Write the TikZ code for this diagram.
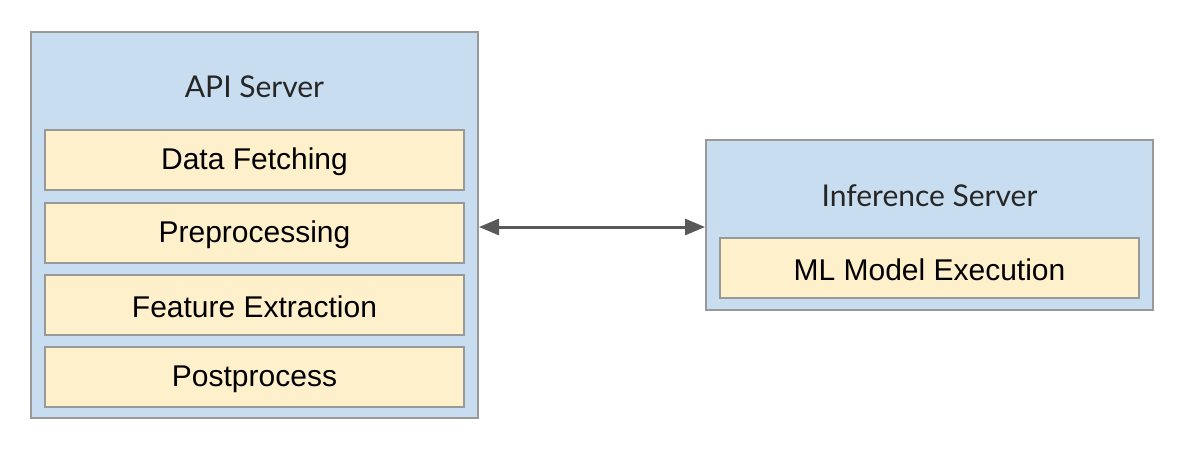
\documentclass[tikz,border=0pt]{standalone}
\usepackage{fontspec}
\setmainfont{Liberation Sans}
\newfontfamily\titlefont{Lato}
\usetikzlibrary{arrows.meta}
\definecolor{outerfill}{HTML}{C9DDF0}
\definecolor{innerfill}{HTML}{FFF0CC}
\definecolor{edgegray}{HTML}{999999}
\definecolor{arrowgray}{HTML}{595959}
\begin{document}
\begin{tikzpicture}[x=1pt,y=-1pt,
  outerbox/.style={draw=edgegray,fill=outerfill,line width=1.5pt},
  innerbox/.style={draw=edgegray,fill=innerfill,line width=1.5pt},
  innertext/.style={font=\fontsize{30}{36}\selectfont},
  titletext/.style={font=\titlefont\fontsize{30}{36}\selectfont,text=black!85}]
\useasboundingbox (0,0) rectangle (1199,455);
\draw[outerbox] (31,32) rectangle (478,418);
\node[titletext] (apititle) at (254.5,87) {API Server};
\draw[innerbox] (45,130) rectangle (464,190);
\node[innertext] (df) at (254.5,162) {Data Fetching};
\draw[innerbox] (45,203) rectangle (464,263);
\node[innertext] (pp) at (254.5,235) {Preprocessing};
\draw[innerbox] (45,275) rectangle (464,335);
\node[innertext] (fe) at (254.5,307) {Feature Extraction};
\draw[innerbox] (45,347) rectangle (464,407);
\node[innertext] (po) at (254.5,379) {Postprocess};
\coordinate (apiright) at (479,227);
\draw[outerbox] (706,140) rectangle (1153,310);
\node[titletext] (inftitle) at (929.5,196) {Inference Server};
\draw[innerbox] (720,238) rectangle (1139,298);
\node[innertext] (ml) at (929.5,270) {ML Model Execution};
\coordinate (infleft) at (705,227);
\draw[arrowgray,line width=3pt,{Triangle[length=20pt,width=16pt]}-{Triangle[length=20pt,width=16pt]}] (apiright) -- (infleft);
\end{tikzpicture}
\end{document}
